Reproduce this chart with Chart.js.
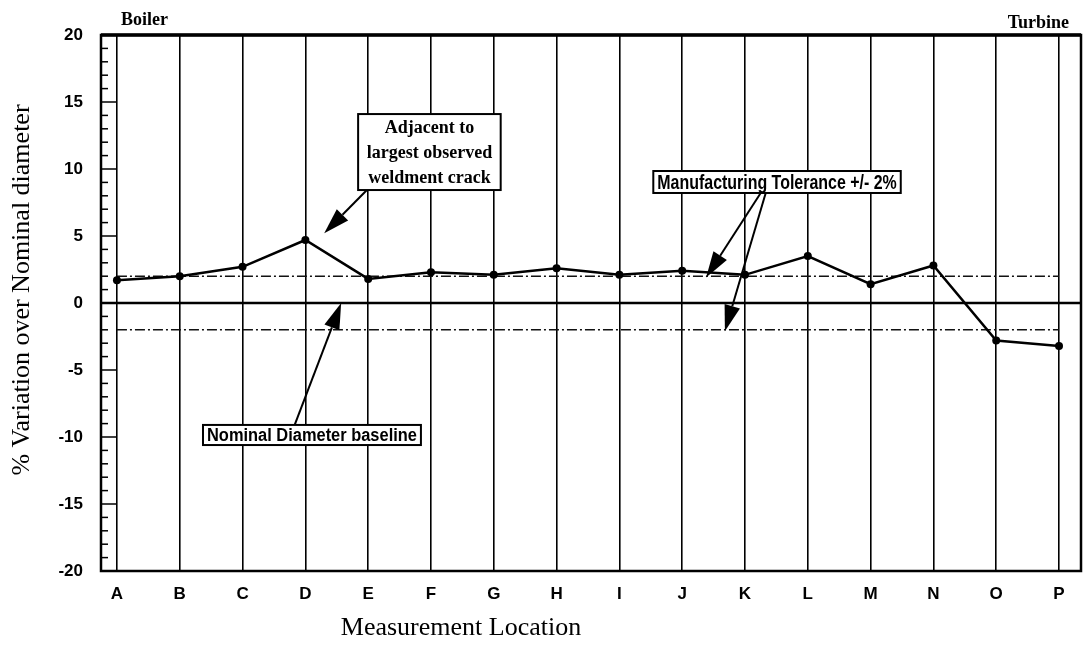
<!DOCTYPE html>
<html>
<head>
<meta charset="utf-8">
<script src="https://cdn.jsdelivr.net/npm/chart.js@4.4.1/dist/chart.umd.min.js"></script>
<style>
  html, body { margin: 0; padding: 0; background: #fff; }
  canvas { display: block; }
</style>
</head>
<body>
<canvas id="chart" width="1085" height="648"></canvas>
<script>
// measurement locations along the line, boiler -> turbine
const categories = ["A", "B", "C", "D", "E", "F", "G", "H", "I", "J", "K", "L", "M", "N", "O", "P"];
// % variation over nominal diameter
const variation = [1.7, 2.0, 2.7, 4.7, 1.8, 2.3, 2.1, 2.6, 2.1, 2.4, 2.1, 3.5, 1.4, 2.8, -2.8, -3.2];
const toleranceBand = [2, -2];
const yTickValues = [-20, -15, -10, -5, 0, 5, 10, 15, 20];

const SERIF = "'Liberation Serif', 'Times New Roman', serif";
const SANS = "'Liberation Sans', Arial, sans-serif";

Chart.defaults.font.family = SANS;
Chart.defaults.color = "#000";

// callouts, placed in data units (x = location index, y = %)
const callouts = [
  {
    lines: ["Adjacent to", "largest observed", "weldment crack"],
    font: "bold 18px " + SERIF, lineGap: 25,
    box: [3.84, 14.1, 6.11, 8.43],
    arrows: [[3.98, 8.43, 3.3, 5.2]],
  },
  {
    lines: ["Manufacturing Tolerance +/- 2%"],
    font: "bold 20px " + SANS, lineGap: 20,
    box: [8.54, 9.85, 12.48, 8.21],
    arrows: [[10.25, 8.21, 9.38, 1.9], [10.33, 8.21, 9.68, -2.1]],
  },
  {
    lines: ["Nominal Diameter baseline"],
    font: "bold 18px " + SANS, lineGap: 18,
    box: [1.37, -9.1, 4.84, -10.6],
    arrows: [[2.83, -9.1, 3.57, 0]],
  },
];

function arrow(ctx, x1, y1, x2, y2) {
  const ang = Math.atan2(y2 - y1, x2 - x1);
  const len = 26, half = 8;
  const bx = x2 - len * Math.cos(ang), by = y2 - len * Math.sin(ang);
  ctx.beginPath();
  ctx.moveTo(x1, y1);
  ctx.lineTo(bx, by);
  ctx.stroke();
  ctx.beginPath();
  ctx.moveTo(x2, y2);
  ctx.lineTo(bx + half * Math.sin(ang), by - half * Math.cos(ang));
  ctx.lineTo(bx - half * Math.sin(ang), by + half * Math.cos(ang));
  ctx.closePath();
  ctx.fill();
}

const decor = {
  id: "decor",
  beforeDatasetsDraw(chart) {
    const { ctx, chartArea: a, scales: { y } } = chart;
    ctx.save();
    // nominal baseline
    ctx.strokeStyle = "#000";
    ctx.lineWidth = 2.5;
    ctx.beginPath();
    ctx.moveTo(a.left, y.getPixelForValue(0));
    ctx.lineTo(a.right, y.getPixelForValue(0));
    ctx.stroke();
    ctx.restore();
  },
  afterDraw(chart) {
    const { ctx, chartArea: a, scales: { x, y } } = chart;
    ctx.save();
    ctx.strokeStyle = "#000";
    ctx.fillStyle = "#000";

    // frame
    ctx.lineWidth = 2.5;
    ctx.strokeRect(a.left, a.top, a.right - a.left, a.bottom - a.top);
    ctx.lineWidth = 3.5;
    ctx.beginPath();
    ctx.moveTo(a.left, a.top);
    ctx.lineTo(a.right, a.top);
    ctx.stroke();

    // inward ticks on y axis, minor every 1
    ctx.lineWidth = 1.5;
    for (let v = -19; v <= 19; v++) {
      const py = y.getPixelForValue(v);
      ctx.beginPath();
      ctx.moveTo(a.left, py);
      ctx.lineTo(a.left + (v % 5 === 0 ? 15 : 7), py);
      ctx.stroke();
    }

    // end labels
    ctx.font = "bold 18px " + SERIF;
    ctx.textBaseline = "alphabetic";
    ctx.textAlign = "left";
    ctx.fillText("Boiler", x.getPixelForValue(0) + 4, a.top - 10);
    ctx.textAlign = "right";
    ctx.fillText("Turbine", x.getPixelForValue(categories.length - 1) + 10, a.top - 7);

    // callouts
    callouts.forEach((c) => {
      ctx.lineWidth = 2;
      c.arrows.forEach(([x1, y1, x2, y2]) => {
        arrow(ctx, x.getPixelForValue(x1), y.getPixelForValue(y1), x.getPixelForValue(x2), y.getPixelForValue(y2));
      });
      const l = x.getPixelForValue(c.box[0]), t = y.getPixelForValue(c.box[1]);
      const r = x.getPixelForValue(c.box[2]), b = y.getPixelForValue(c.box[3]);
      ctx.fillStyle = "#fff";
      ctx.fillRect(l, t, r - l, b - t);
      ctx.lineWidth = 2;
      ctx.strokeRect(l, t, r - l, b - t);
      ctx.fillStyle = "#000";
      ctx.font = c.font;
      ctx.textAlign = "center";
      ctx.textBaseline = "middle";
      const cx = (l + r) / 2, cy = (t + b) / 2;
      c.lines.forEach((line, i) => {
        const w = ctx.measureText(line).width;
        const sx = Math.min(1, (r - l - 8) / w);
        ctx.save();
        ctx.translate(cx, cy + (i - (c.lines.length - 1) / 2) * c.lineGap + 1);
        ctx.scale(sx, 1);
        ctx.fillText(line, 0, 0);
        ctx.restore();
      });
    });

    // axis titles
    ctx.font = "26px " + SERIF;
    ctx.textAlign = "center";
    ctx.textBaseline = "middle";
    ctx.fillText("Measurement Location", 461, 628);
    ctx.save();
    ctx.translate(22, 290);
    ctx.rotate(-Math.PI / 2);
    ctx.fillText("% Variation over Nominal diameter", 0, 0);
    ctx.restore();

    ctx.restore();
  },
};

new Chart(document.getElementById("chart"), {
  type: "line",
  data: {
    datasets: [
      {
        label: "Variation",
        data: categories.map((c, i) => ({ x: i, y: variation[i] })),
        borderColor: "#000",
        borderWidth: 2.5,
        pointRadius: 4,
        pointBackgroundColor: "#000",
        pointBorderWidth: 0,
        tension: 0,
      },
      ...toleranceBand.map((tol) => ({
        label: "Tolerance " + tol,
        data: categories.map((c, i) => ({ x: i, y: tol })),
        borderColor: "#111",
        borderWidth: 1.5,
        borderDash: [10, 3, 2, 3],
        pointRadius: 0,
      })),
    ],
  },
  options: {
    responsive: false,
    animation: false,
    layout: { padding: { top: 35, right: 1, left: 0, bottom: 0 } },
    plugins: { legend: { display: false }, tooltip: { enabled: false } },
    scales: {
      x: {
        type: "linear",
        min: -0.254,
        max: 15.35,
        afterBuildTicks: (s) => { s.ticks = categories.map((c, i) => ({ value: i })); },
        afterFit: (s) => { s.height = 77; s.paddingLeft = 0; s.paddingRight = 0; },
        grid: { color: "#000", lineWidth: 1.6, drawTicks: false },
        border: { display: false },
        ticks: {
          callback: (v) => categories[v],
          autoSkip: false,
          maxRotation: 0,
          padding: 13,
          color: "#000",
          font: { size: 17, weight: "bold" },
        },
      },
      y: {
        min: -20,
        max: 20,
        afterBuildTicks: (s) => { s.ticks = yTickValues.map((v) => ({ value: v })); },
        afterFit: (s) => { s.width = 101; s.paddingTop = 0; s.paddingBottom = 0; },
        grid: { display: false, drawTicks: false },
        border: { display: false },
        ticks: { padding: 18, color: "#000", font: { size: 17, weight: "bold" } },
      },
    },
  },
  plugins: [decor],
});
</script>
</body>
</html>
